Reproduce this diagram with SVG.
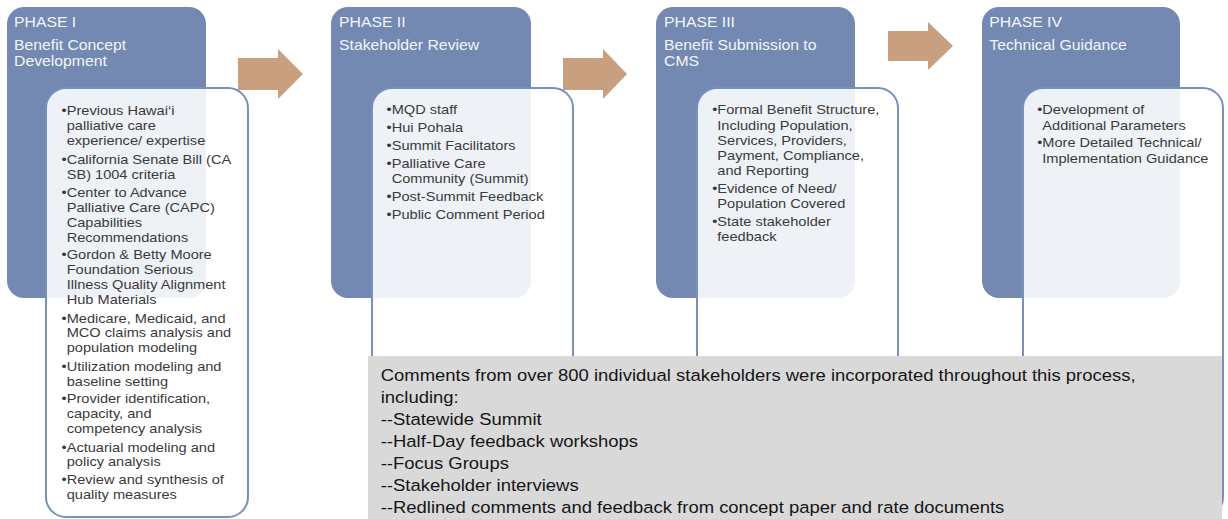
<svg xmlns="http://www.w3.org/2000/svg" width="1228" height="519" viewBox="0 0 1228 519">
  <defs>
    <linearGradient id="edgeShade" x1="0" y1="0" x2="0" y2="1">
      <stop offset="0" stop-color="#9a9da8"/>
      <stop offset="1" stop-color="#3b4768"/>
    </linearGradient>
    <style>
      .outer { fill: #7389b2; }
      .inner { fill: #ffffff; fill-opacity: 0.88; stroke: #7690c0; stroke-width: 2; }
      .arrow { fill: #c9a07f; }
      text { font-family: "Liberation Sans", Arial, sans-serif; }
      .title { font-size: 14.6px; fill: #f4f5f8; }
      .item { font-size: 13.5px; fill: #3a3a3a; }
      .bullet { font-size: 13.5px; fill: #3a3a3a; text-anchor: end; }
      .note { font-size: 17.1px; fill: #151515; }
      .panel { fill: #d9d9d9; }
    </style>
  </defs>

  <rect width="1228" height="519" fill="#ffffff"/>
  <line x1="1" y1="0" x2="1" y2="519" stroke="url(#edgeShade)" stroke-width="2"/>

  <!-- Phase I -->
  <g id="phase1">
    <rect class="outer" x="7" y="7" width="199" height="291" rx="17"/>
    <rect class="inner" x="46" y="88" width="202" height="429" rx="20"/>
    <g transform="matrix(1.08 0 0 1 14 0)">
      <text class="title" x="0" y="27.5">PHASE I</text>
      <text class="title" x="0" y="50">Benefit Concept</text>
      <text class="title" x="0" y="65.7">Development</text>
    </g>
    <g transform="matrix(1.08 0 0 1 66.7 0)">
      <text class="bullet" x="0" y="115">•</text>
      <text class="item" x="0" y="115">Previous Hawai‘i</text>
      <text class="item" x="0" y="130">palliative care</text>
      <text class="item" x="0" y="145.3">experience/ expertise</text>
      <text class="bullet" x="0" y="163.6">•</text>
      <text class="item" x="0" y="163.6">California Senate Bill (CA</text>
      <text class="item" x="0" y="178.6">SB) 1004 criteria</text>
      <text class="bullet" x="0" y="196.7">•</text>
      <text class="item" x="0" y="196.7">Center to Advance</text>
      <text class="item" x="0" y="211.8">Palliative Care (CAPC)</text>
      <text class="item" x="0" y="226.9">Capabilities</text>
      <text class="item" x="0" y="241.7">Recommendations</text>
      <text class="bullet" x="0" y="259">•</text>
      <text class="item" x="0" y="259">Gordon &amp; Betty Moore</text>
      <text class="item" x="0" y="274.4">Foundation Serious</text>
      <text class="item" x="0" y="289.3">Illness Quality Alignment</text>
      <text class="item" x="0" y="304.3">Hub Materials</text>
      <text class="bullet" x="0" y="322.7">•</text>
      <text class="item" x="0" y="322.7">Medicare, Medicaid, and</text>
      <text class="item" x="0" y="337.5">MCO claims analysis and</text>
      <text class="item" x="0" y="352.3">population modeling</text>
      <text class="bullet" x="0" y="370.7">•</text>
      <text class="item" x="0" y="370.7">Utilization modeling and</text>
      <text class="item" x="0" y="385.7">baseline setting</text>
      <text class="bullet" x="0" y="403.5">•</text>
      <text class="item" x="0" y="403.5">Provider identification,</text>
      <text class="item" x="0" y="418.4">capacity, and</text>
      <text class="item" x="0" y="433.3">competency analysis</text>
      <text class="bullet" x="0" y="451.7">•</text>
      <text class="item" x="0" y="451.7">Actuarial modeling and</text>
      <text class="item" x="0" y="466.4">policy analysis</text>
      <text class="bullet" x="0" y="484.5">•</text>
      <text class="item" x="0" y="484.5">Review and synthesis of</text>
      <text class="item" x="0" y="499.4">quality measures</text>
    </g>
  </g>

  <!-- Phase II -->
  <g id="phase2">
    <rect class="outer" x="331" y="7" width="200" height="291" rx="17"/>
    <rect class="inner" x="372" y="88" width="201" height="429" rx="20"/>
    <g transform="matrix(1.08 0 0 1 339 0)">
      <text class="title" x="0" y="27.5">PHASE II</text>
      <text class="title" x="0" y="50">Stakeholder Review</text>
    </g>
    <g transform="matrix(1.08 0 0 1 391.7 0)">
      <text class="bullet" x="0" y="114.3">•</text>
      <text class="item" x="0" y="114.3">MQD staff</text>
      <text class="bullet" x="0" y="132.4">•</text>
      <text class="item" x="0" y="132.4">Hui Pohala</text>
      <text class="bullet" x="0" y="150.4">•</text>
      <text class="item" x="0" y="150.4">Summit Facilitators</text>
      <text class="bullet" x="0" y="168.4">•</text>
      <text class="item" x="0" y="168.4">Palliative Care</text>
      <text class="item" x="0" y="183.4">Community (Summit)</text>
      <text class="bullet" x="0" y="201.5">•</text>
      <text class="item" x="0" y="201.5">Post-Summit Feedback</text>
      <text class="bullet" x="0" y="218.8">•</text>
      <text class="item" x="0" y="218.8">Public Comment Period</text>
    </g>
  </g>

  <!-- Phase III -->
  <g id="phase3">
    <rect class="outer" x="656" y="7" width="199" height="291" rx="17"/>
    <rect class="inner" x="697" y="88" width="201" height="429" rx="20"/>
    <g transform="matrix(1.08 0 0 1 664 0)">
      <text class="title" x="0" y="27.5">PHASE III</text>
      <text class="title" x="0" y="50">Benefit Submission to</text>
      <text class="title" x="0" y="65.7">CMS</text>
    </g>
    <g transform="matrix(1.08 0 0 1 717.3 0)">
      <text class="bullet" x="0" y="114.5">•</text>
      <text class="item" x="0" y="114.5">Formal Benefit Structure,</text>
      <text class="item" x="0" y="129.8">Including Population,</text>
      <text class="item" x="0" y="144.8">Services, Providers,</text>
      <text class="item" x="0" y="159.8">Payment, Compliance,</text>
      <text class="item" x="0" y="174.8">and Reporting</text>
      <text class="bullet" x="0" y="193">•</text>
      <text class="item" x="0" y="193">Evidence of Need/</text>
      <text class="item" x="0" y="208">Population Covered</text>
      <text class="bullet" x="0" y="226.3">•</text>
      <text class="item" x="0" y="226.3">State stakeholder</text>
      <text class="item" x="0" y="241.3">feedback</text>
    </g>
  </g>

  <!-- Phase IV -->
  <g id="phase4">
    <rect class="outer" x="982" y="7" width="198" height="291" rx="17"/>
    <rect class="inner" x="1023" y="88" width="200" height="429" rx="20"/>
    <g transform="matrix(1.08 0 0 1 989.3 0)">
      <text class="title" x="0" y="27.5">PHASE IV</text>
      <text class="title" x="0" y="50">Technical Guidance</text>
    </g>
    <g transform="matrix(1.08 0 0 1 1042.3 0)">
      <text class="bullet" x="0" y="114.5">•</text>
      <text class="item" x="0" y="114.5">Development of</text>
      <text class="item" x="0" y="129.8">Additional Parameters</text>
      <text class="bullet" x="0" y="147.4">•</text>
      <text class="item" x="0" y="147.4">More Detailed Technical/</text>
      <text class="item" x="0" y="162.8">Implementation Guidance</text>
    </g>
  </g>

  <!-- Block arrows between phases -->
  <g id="connectors">
    <polygon class="arrow" points="238,58 278,58 278,49 303,74 278,99 278,90 238,90"/>
    <polygon class="arrow" points="563,58 603,58 603,49 627,74 603,99 603,90 563,90"/>
    <polygon class="arrow" points="888,31 928,31 928,22 953,46 928,70 928,61 888,61"/>
  </g>

  <!-- Stakeholder comment summary -->
  <g id="comments">
    <rect class="panel" x="368" y="356" width="854" height="163"/>
    <g transform="matrix(1.08 0 0 1 380.7 0)">
      <text class="note" x="0" y="381.5">Comments from over 800 individual stakeholders were incorporated throughout this process,</text>
      <text class="note" x="0" y="403.4">including:</text>
      <text class="note" x="0" y="425.3">--Statewide Summit</text>
      <text class="note" x="0" y="447.2">--Half-Day feedback workshops</text>
      <text class="note" x="0" y="469.1">--Focus Groups</text>
      <text class="note" x="0" y="491">--Stakeholder interviews</text>
      <text class="note" x="0" y="512.9">--Redlined comments and feedback from concept paper and rate documents</text>
    </g>
  </g>
</svg>
